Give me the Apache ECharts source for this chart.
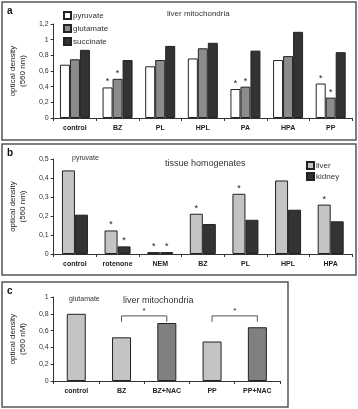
<!DOCTYPE html>
<html>
<head>
<meta charset="utf-8">
<script src="https://cdn.jsdelivr.net/npm/echarts@6/dist/echarts.min.js"></script>
<style>
html,body{margin:0;padding:0;background:#fff;}
#main{width:358px;height:409px;}
</style>
</head>
<body>
<div id="main"></div>
<script>
// panel a - liver mitochondria
var catsA = ['control', 'BZ', 'PL', 'HPL', 'PA', 'HPA', 'PP'];
var pyruvateA = [0.68, 0.39, 0.66, 0.76, 0.37, 0.74, 0.44];
var glutamateA = [0.75, 0.50, 0.74, 0.89, 0.40, 0.79, 0.26];
var succinateA = [0.87, 0.74, 0.92, 0.96, 0.86, 1.10, 0.84];
var starPyrA = [0, 1, 0, 0, 1, 0, 1];
var starGluA = [0, 1, 0, 0, 1, 0, 1];
var starSucA = [0, 0, 0, 0, 0, 0, 0];

// panel b - tissue homogenates
var catsB = ['control', 'rotenone', 'NEM', 'BZ', 'PL', 'HPL', 'HPA'];
var liverB = [0.44, 0.124, 0.01, 0.212, 0.317, 0.387, 0.26];
var kidneyB = [0.207, 0.04, 0.01, 0.158, 0.18, 0.233, 0.172];
var starLiverB = [0, 1, 1, 1, 1, 0, 1];
var starKidneyB = [0, 1, 1, 0, 0, 0, 0];

// panel c - glutamate
var catsC = ['control', 'BZ', 'BZ+NAC', 'PP', 'PP+NAC'];
var valuesC = [0.80, 0.52, 0.69, 0.47, 0.64];
var nacC = [0, 0, 1, 0, 1];
// brackets: from category, to category, top value, leg value
var brFrom = [1, 3];
var brTo = [2, 4];
var brTop = [0.775, 0.775];
var brLeg = [0.705, 0.705];

var FONT = 'Liberation Sans';
var comma = function (v) { return String(Math.round(v * 10) / 10).replace('.', ','); };

function starData(vals, stars) {
    var out = [];
    for (var i = 0; i < vals.length; i++) {
        out.push({ value: vals[i], label: { show: !!stars[i] } });
    }
    return out;
}

function yAx(idx, max, interval, name, gap, fmt) {
    return {
        gridIndex: idx, type: 'value', min: 0, max: max, interval: interval,
        name: name, nameLocation: 'middle', nameRotate: 90, nameGap: gap,
        nameTextStyle: { fontFamily: FONT, fontSize: 8, color: '#222', lineHeight: 10 },
        axisLine: { show: true, lineStyle: { color: '#333', width: 1 } },
        axisTick: { show: true, length: 3, lineStyle: { color: '#333' } },
        axisLabel: { fontFamily: FONT, fontSize: 7, color: '#333', margin: 5, formatter: fmt },
        splitLine: { show: false }
    };
}

function xAx(idx, cats) {
    return {
        gridIndex: idx, type: 'category', data: cats,
        axisLine: { lineStyle: { color: '#333', width: 1 } },
        axisTick: { show: true, length: 3, lineStyle: { color: '#333' } },
        axisLabel: { fontFamily: FONT, fontSize: 7, fontWeight: 'bold', color: '#222', margin: 7 }
    };
}

var starLabel = { position: 'top', distance: 1, formatter: '*', fontSize: 9, color: '#222', fontFamily: FONT };

function bar(name, x, y, data, color, width) {
    return {
        name: name, type: 'bar', xAxisIndex: x, yAxisIndex: y, data: data,
        barWidth: width, barGap: '0%',
        itemStyle: { color: color, borderColor: '#222', borderWidth: 1 },
        label: starLabel
    };
}

var chart = echarts.init(document.getElementById('main'), null, { renderer: 'canvas' });

var option = {
    animation: false,
    backgroundColor: '#fff',
    textStyle: { fontFamily: FONT },
    grid: [
        { left: 50, top: 24, width: 302, height: 94 },
        { left: 47, top: 159, width: 305, height: 95 },
        { left: 49, top: 297, width: 231, height: 84 }
    ],
    xAxis: [xAx(0, catsA), xAx(1, catsB), xAx(2, catsC)],
    yAxis: [
        yAx(0, 1.2, 0.2, 'optical density\n(560 nm)', 23, comma),
        yAx(1, 0.5, 0.1, 'optical density\n(560 nm)', 23, comma),
        yAx(2, 1, 0.2, 'optical density\n(560 nM)', 23, comma)
    ],
    legend: [
        {
            data: ['pyruvate', 'glutamate', 'succinate'], orient: 'vertical', icon: 'rect',
            left: 58, top: 6, itemWidth: 7, itemHeight: 7, itemGap: 4,
            textStyle: { fontFamily: FONT, fontSize: 8, color: '#333', padding: [0, 0, 0, -3] }
        },
        {
            data: ['liver', 'kidney'], orient: 'vertical', icon: 'rect',
            left: 301, top: 156, itemWidth: 7, itemHeight: 7, itemGap: 2,
            textStyle: { fontFamily: FONT, fontSize: 8, color: '#333', padding: [0, 0, 0, -3] }
        }
    ],
    series: [
        bar('pyruvate', 0, 0, starData(pyruvateA, starPyrA), '#ffffff', 10),
        bar('glutamate', 0, 0, starData(glutamateA, starGluA), '#8c8c8c', 10),
        bar('succinate', 0, 0, starData(succinateA, starSucA), '#333333', 10),
        bar('liver', 1, 1, starData(liverB, starLiverB), '#c4c4c4', 13),
        bar('kidney', 1, 1, starData(kidneyB, starKidneyB), '#333333', 13),
        {
            type: 'bar', xAxisIndex: 2, yAxisIndex: 2, barWidth: 19,
            data: valuesC.map(function (v, i) {
                return { value: v, itemStyle: { color: nacC[i] ? '#808080' : '#c4c4c4' } };
            }),
            itemStyle: { borderColor: '#222', borderWidth: 1 }
        },
        {
            type: 'custom', xAxisIndex: 2, yAxisIndex: 2,
            data: brFrom.map(function (f, i) { return [f, brTo[i], brTop[i], brLeg[i]]; }),
            renderItem: function (params, api) {
                var a = api.coord([api.value(0), api.value(3)]);
                var b = api.coord([api.value(0), api.value(2)]);
                var c = api.coord([api.value(1), api.value(2)]);
                var d = api.coord([api.value(1), api.value(3)]);
                return {
                    type: 'group',
                    children: [
                        { type: 'polyline', shape: { points: [a, b, c, d] },
                          style: { stroke: '#555', lineWidth: 1, fill: null } },
                        { type: 'text', x: (b[0] + c[0]) / 2, y: b[1] - 1,
                          style: { text: '*', fontSize: 8, fill: '#222', align: 'center', verticalAlign: 'bottom', fontFamily: FONT } }
                    ]
                };
            }
        }
    ],
    graphic: [
        { type: 'rect', shape: { x: 2, y: 2, width: 354, height: 138 }, style: { fill: null, stroke: '#555', lineWidth: 1.5 } },
        { type: 'rect', shape: { x: 2, y: 144, width: 354, height: 131 }, style: { fill: null, stroke: '#555', lineWidth: 1.5 } },
        { type: 'rect', shape: { x: 2, y: 282, width: 286, height: 125 }, style: { fill: null, stroke: '#555', lineWidth: 1.5 } },
        { type: 'text', left: 7, top: 6, style: { text: 'a', font: 'bold 10px Liberation Sans', fill: '#111' } },
        { type: 'text', left: 7, top: 148, style: { text: 'b', font: 'bold 10px Liberation Sans', fill: '#111' } },
        { type: 'text', left: 7, top: 286, style: { text: 'c', font: 'bold 10px Liberation Sans', fill: '#111' } },
        { type: 'text', left: 167, top: 10, style: { text: 'liver mitochondria', font: '8px Liberation Sans', fill: '#333' } },
        { type: 'text', left: 72, top: 155, style: { text: 'pyruvate', font: '7px Liberation Sans', fill: '#333' } },
        { type: 'text', left: 165, top: 159, style: { text: 'tissue homogenates', font: '9px Liberation Sans', fill: '#333' } },
        { type: 'text', left: 69, top: 296, style: { text: 'glutamate', font: '7px Liberation Sans', fill: '#333' } },
        { type: 'text', left: 123, top: 296, style: { text: 'liver mitochondria', font: '9px Liberation Sans', fill: '#333' } }
    ]
};

chart.setOption(option);
</script>
</body>
</html>
